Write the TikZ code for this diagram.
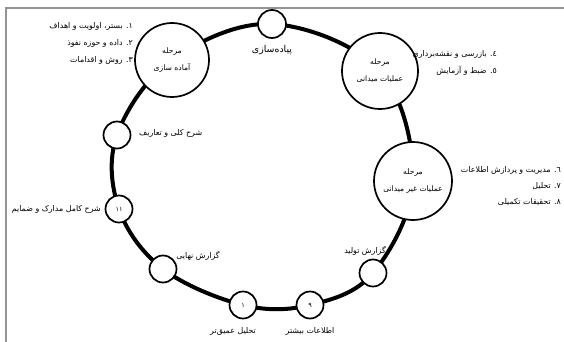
\documentclass[tikz,border=0pt]{standalone}
\usepackage{fontspec}
\newfontfamily\ar[Script=Arabic]{DejaVu Sans}
\TeXXeTstate=1
\usetikzlibrary{backgrounds}
\begin{document}
\begin{tikzpicture}[x=1pt,y=-1pt,
  ring/.style={line width=4pt, line join=round},
  bigc/.style={circle, draw, line width=1.7pt, fill=white, inner sep=0pt, align=center,
    font=\ar\fontsize{7.6}{17}\selectfont},
  smallc/.style={circle, draw, line width=1.7pt, fill=white, minimum size=27pt, inner sep=0pt,
    font=\ar\fontsize{6.5}{7}\selectfont},
  lbl/.style={inner sep=0pt, font=\ar\fontsize{7.9}{9}\selectfont},
  lst/.style={inner sep=0pt, align=right, font=\ar\fontsize{7.9}{17}\selectfont},
  frame/.style={draw=gray!85, line width=1.6pt}]
\useasboundingbox (0,0) rectangle (564,342);
\draw[frame] (6,342) -- (6,8) -- (564,8);

% ring nodes
\node[smallc, minimum size=28pt] (impl) at (272,24) {};
\node[bigc, minimum size=74pt] (prep) at (172,60) {\beginR مرحله\endR\\\beginR آماده سازی\endR};
\node[bigc, minimum size=76pt] (field) at (380,71) {\beginR مرحله\endR\\\beginR عملیات میدانی\endR};
\node[bigc, minimum size=78pt] (nonfield) at (413,181) {\beginR مرحله\endR\\\beginR عملیات غیر میدانی\endR};
\node[smallc] (prod) at (373,273) {};
\node[smallc] (nine) at (310,305) {\beginR ٩\endR};
\node[smallc] (one) at (243,305) {\beginR ١\endR};
\node[smallc] (final) at (163,269) {};
\node[smallc] (eleven) at (119,209) {\beginR ١١\endR};
\node[smallc] (def) at (117,135) {};

\begin{scope}[on background layer]
\draw[ring] plot[smooth cycle, tension=0.6] coordinates {(impl.center) (field.center) (nonfield.center) (prod.center) (nine.center) (one.center) (final.center) (eleven.center) (def.center) (prep.center)};
\end{scope}

% labels
\node[lbl, font=\ar\fontsize{9.4}{10}\selectfont] (implL) at (272,50) {\beginR پیاده‌سازی\endR};
\node[lbl, anchor=west] (defL) at (139,133) {\beginR شرح کلی و تعاریف\endR};
\node[lbl, anchor=east] (elevenL) at (101,209) {\beginR شرح کامل مدارک و ضمایم\endR};
\node[lbl] (finalL) at (198,256) {\beginR گزارش نهایی\endR};
\node[lbl] (oneL) at (233,331) {\beginR تحلیل عمیق‌تر\endR};
\node[lbl] (nineL) at (310,331) {\beginR اطلاعات بیشتر\endR};
\node[lbl] (prodL) at (365,251) {\beginR گزارش تولید\endR};

% lists
\node[lst, anchor=east] (list1) at (133,43) {\beginR ١. بستر، اولویت و اهداف\endR\\\beginR ٢. داده و حوزه نفوذ\endR\\\beginR ٣. روش و اقدامات\endR};
\node[lst, anchor=east] (list2) at (497,63) {\beginR ٤. بازرسی و نقشه‌برداری\endR\\\beginR ٥. ضبط و آزمایش\endR};
\node[lst, anchor=east, font=\ar\fontsize{7.9}{16}\selectfont] (list3) at (561,186) {\beginR ٦. مدیریت و پردازش اطلاعات\endR\\\beginR ٧. تحلیل\endR\\\beginR ٨. تحقیقات تکمیلی\endR};
\end{tikzpicture}
\end{document}
